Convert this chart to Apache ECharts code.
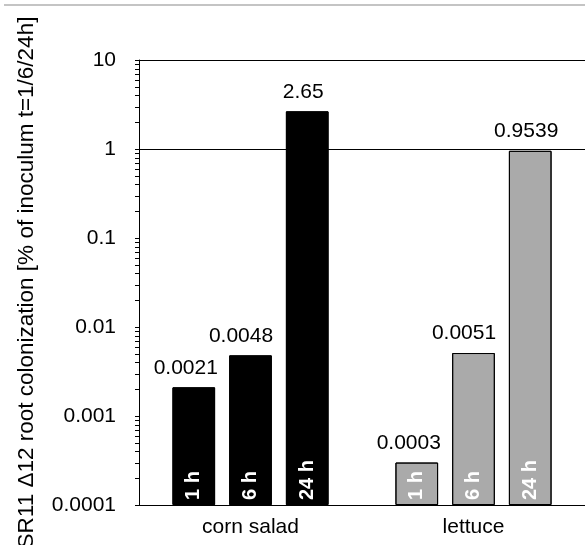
<!DOCTYPE html>
<html>
<head>
<meta charset="utf-8">
<script src="https://cdn.jsdelivr.net/npm/echarts@6/dist/echarts.min.js"></script>
<style>
  html, body { margin: 0; padding: 0; background: #fff; }
  #chart { width: 585px; height: 545px; }
</style>
</head>
<body>
<div id="chart"></div>
<script>
// Plants on the category axis
const plants = ['corn salad', 'lettuce'];
// Sampling times (one bar series each)
const times = ['1 h', '6 h', '24 h'];
// Root colonization [% of inoculum], per time: [corn salad, lettuce]
const colonization1h = [0.0021, 0.0003];
const colonization6h = [0.0048, 0.0051];
const colonization24h = [2.65, 0.9539];
// Printed value labels, per time: [corn salad, lettuce]
const valueLabels1h = ['0.0021', '0.0003'];
const valueLabels6h = ['0.0048', '0.0051'];
const valueLabels24h = ['2.65', '0.9539'];
// Y tick labels from 1e-4 to 1e1
const yTickLabels = ['0.0001', '0.001', '0.01', '0.1', '1', '10'];
// Reference lines
const refLines = [1, 10];

const seriesValues = [colonization1h, colonization6h, colonization24h];
const seriesLabels = [valueLabels1h, valueLabels6h, valueLabels24h];
// Value labels sit slightly left of the bar centre
const labelShift = [-8, -9.5, -4];
const plantColors = ['#000000', '#aaaaaa'];
const plantBorders = ['#000000', '#333333'];
const FONT = '"Liberation Sans", Arial, sans-serif';

const barLayout = { barCategoryGap: '30%', barGap: '33%' };

const chart = echarts.init(document.getElementById('chart'), null, { renderer: 'canvas' });

const series = [];
// Bars with value labels on top
times.forEach((t, i) => {
  series.push(Object.assign({
    name: t,
    type: 'bar',
    xAxisIndex: 0,
    yAxisIndex: 0,
    data: seriesValues[i],
    itemStyle: {
      color: p => plantColors[p.dataIndex],
      borderColor: '#000',
      borderWidth: 1
    },
    label: {
      show: true,
      position: 'top',
      distance: 9,
      offset: [labelShift[i], 0],
      fontFamily: FONT,
      fontSize: 21,
      color: '#000',
      formatter: p => seriesLabels[i][p.dataIndex]
    },
    silent: true,
    z: 2
  }, barLayout));
});
// Same bars on an overlaid axis, carrying the time label inside each bar
times.forEach((t, i) => {
  series.push(Object.assign({
    name: t + ' label',
    type: 'bar',
    xAxisIndex: 1,
    yAxisIndex: 0,
    data: seriesValues[i],
    itemStyle: {
      color: 'rgba(0,0,0,0)',
      borderColor: p => plantBorders[p.dataIndex],
      borderWidth: 1
    },
    label: {
      show: true,
      position: 'insideBottom',
      distance: 5,
      rotate: 90,
      align: 'left',
      verticalAlign: 'middle',
      fontFamily: FONT,
      fontSize: 20,
      fontWeight: 'bold',
      color: '#fff',
      formatter: () => t
    },
    silent: true,
    z: 3
  }, barLayout));
});
// Horizontal reference lines at 1 and 10
series[0].markLine = {
  silent: true,
  symbol: ['none', 'none'],
  label: { show: false },
  lineStyle: { color: '#000', width: 1, type: 'solid' },
  data: refLines.map(v => ({ yAxis: v }))
};

chart.setOption({
  animation: false,
  backgroundColor: '#fff',
  grid: { left: 139, right: 0, top: 60, bottom: 40, containLabel: false, outerBoundsMode: 'none' },
  xAxis: [
    {
      type: 'category',
      data: plants,
      axisLine: { lineStyle: { color: '#000', width: 1 } },
      axisTick: { alignWithLabel: true, length: 6, lineStyle: { color: '#333' } },
      axisLabel: { margin: 12, fontFamily: FONT, fontSize: 21, color: '#000' }
    },
    {
      type: 'category',
      data: plants,
      show: false
    }
  ],
  yAxis: {
    type: 'log',
    logBase: 10,
    min: 0.0001,
    max: 10,
    startValue: 0.0001,
    name: 'SR11 \u039412 root colonization [% of inoculum t=1/6/24h]',
    nameLocation: 'middle',
    nameRotate: 90,
    nameGap: 101,
    nameTextStyle: { fontFamily: FONT, fontSize: 22.5, color: '#000' },
    axisLine: { show: true, lineStyle: { color: '#000', width: 1 } },
    axisTick: { show: true, length: 4, lineStyle: { color: '#000' } },
    splitLine: { show: false },
    axisLabel: {
      margin: 23,
      fontFamily: FONT,
      fontSize: 21,
      color: '#000',
      formatter: v => yTickLabels[Math.round(Math.log10(v)) + 4]
    }
  },
  series: series
});

// Minor ticks at 2..9 within each decade, placed through the axis scale
const rect = chart.getModel().getComponent('grid').coordinateSystem.getRect();
const minorTicks = [];
for (let e = -4; e <= 0; e++) {
  for (let k = 2; k <= 9; k++) {
    const y = Math.round(chart.convertToPixel({ yAxisIndex: 0 }, k * Math.pow(10, e))) + 0.5;
    minorTicks.push({
      type: 'line',
      silent: true,
      shape: { x1: rect.x - 4, y1: y, x2: rect.x, y2: y },
      style: { stroke: '#000', lineWidth: 1 }
    });
  }
}
chart.setOption({
  graphic: [
    {
      type: 'line',
      silent: true,
      shape: { x1: 4, y1: 5, x2: 585, y2: 5 },
      style: { stroke: '#c4c4c4', lineWidth: 2 }
    }
  ].concat(minorTicks)
});
</script>
</body>
</html>
